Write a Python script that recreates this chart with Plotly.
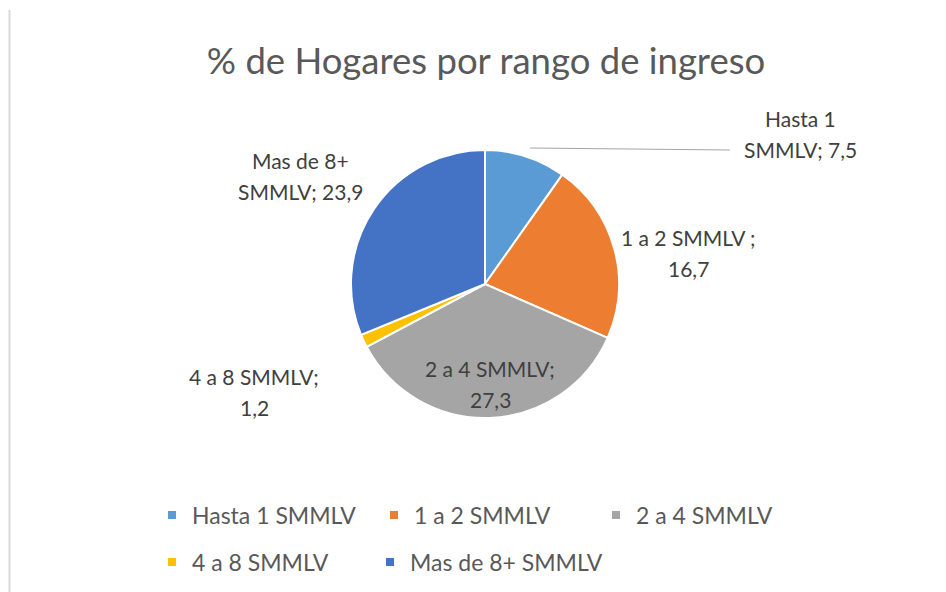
import plotly.graph_objects as go

# ---- data ----
labels = ["Hasta 1 SMMLV", "1 a 2 SMMLV", "2 a 4 SMMLV", "4 a 8 SMMLV", "Mas de 8+ SMMLV"]
values = [7.5, 16.7, 27.3, 1.2, 23.9]
colors = ["#5B9BD5", "#ED7D31", "#A5A5A5", "#FFC000", "#4472C4"]
title_text = "% de Hogares por rango de ingreso"

W, H = 946, 592
FONT = "Lato, 'Open Sans', sans-serif"


def fmt(v):
    return str(v).replace(".", ",")


# data label texts, two lines each as in the original
data_label_lines = [
    ("Hasta 1", "SMMLV; " + fmt(values[0])),
    ("1 a 2 SMMLV ;", fmt(values[1])),
    ("2 a 4 SMMLV;", fmt(values[2])),
    ("4 a 8 SMMLV;", fmt(values[3])),
    ("Mas de 8+", "SMMLV; " + fmt(values[4])),
]
# label centre positions in pixels (layout only)
label_pos = [(800, 134), (688, 253), (490, 384), (254, 392), (300, 176)]
LINE_GAP = 31


def px(x):
    return x / W


def py(y):
    return 1 - y / H


cx, cy, r = 485, 284, 134

fig = go.Figure()
fig.add_trace(go.Pie(
    labels=labels, values=values, sort=False, direction="clockwise", rotation=0,
    marker=dict(colors=colors, line=dict(color="white", width=2)),
    textinfo="none", hoverinfo="label+value", showlegend=False,
    domain=dict(x=[px(cx - r), px(cx + r)], y=[py(cy + r), py(cy - r)]),
))

# legend entries: first row in "legend", second row split into legend2 / legend3
legend_ids = ["legend", "legend", "legend", "legend2", "legend3"]
for lab, col, lid in zip(labels, colors, legend_ids):
    fig.add_trace(go.Scatter(
        x=[None], y=[None], mode="markers", name=lab,
        marker=dict(symbol="square", size=8, color=col),
        legend=lid, showlegend=True, hoverinfo="skip",
    ))

annotations = []
for (l1, l2), (x, y) in zip(data_label_lines, label_pos):
    for txt, yy in ((l1, y - LINE_GAP / 2), (l2, y + LINE_GAP / 2)):
        annotations.append(dict(
            x=px(x), y=py(yy), xref="paper", yref="paper", text=txt, showarrow=False,
            xanchor="center", yanchor="middle", align="center",
            font=dict(family=FONT, size=21, color="#404040"),
        ))

legend_common = dict(
    orientation="h", xanchor="left", yanchor="middle",
    font=dict(family=FONT, size=23, color="#595959"),
    bgcolor="rgba(0,0,0,0)",
    itemclick=False, itemdoubleclick=False,
)

fig.update_layout(
    width=W, height=H,
    margin=dict(l=0, r=0, t=0, b=0, autoexpand=False),
    paper_bgcolor="white", plot_bgcolor="white",
    title=dict(text=title_text, x=px(486), xanchor="center", y=py(61), yanchor="middle",
               font=dict(family=FONT, size=36.5, color="#595959")),
    xaxis=dict(visible=False), yaxis=dict(visible=False),
    legend=dict(x=px(152), y=py(515), entrywidth=177, entrywidthmode="pixels", **legend_common),
    legend2=dict(x=px(152), y=py(562), **legend_common),
    legend3=dict(x=px(370), y=py(562), **legend_common),
    annotations=annotations,
    shapes=[
        dict(type="line", xref="paper", yref="paper", x0=px(530), y0=py(148), x1=px(730), y1=py(150),
             line=dict(color="#A6A6A6", width=1)),
        dict(type="line", xref="paper", yref="paper", x0=px(9.5), y0=py(10), x1=px(9.5), y1=0,
             line=dict(color="#D9D9D9", width=2)),
    ],
    showlegend=True,
)

fig.write_html("out.html", config={"displayModeBar": False},
               post_script="document.body.style.margin='0';")
